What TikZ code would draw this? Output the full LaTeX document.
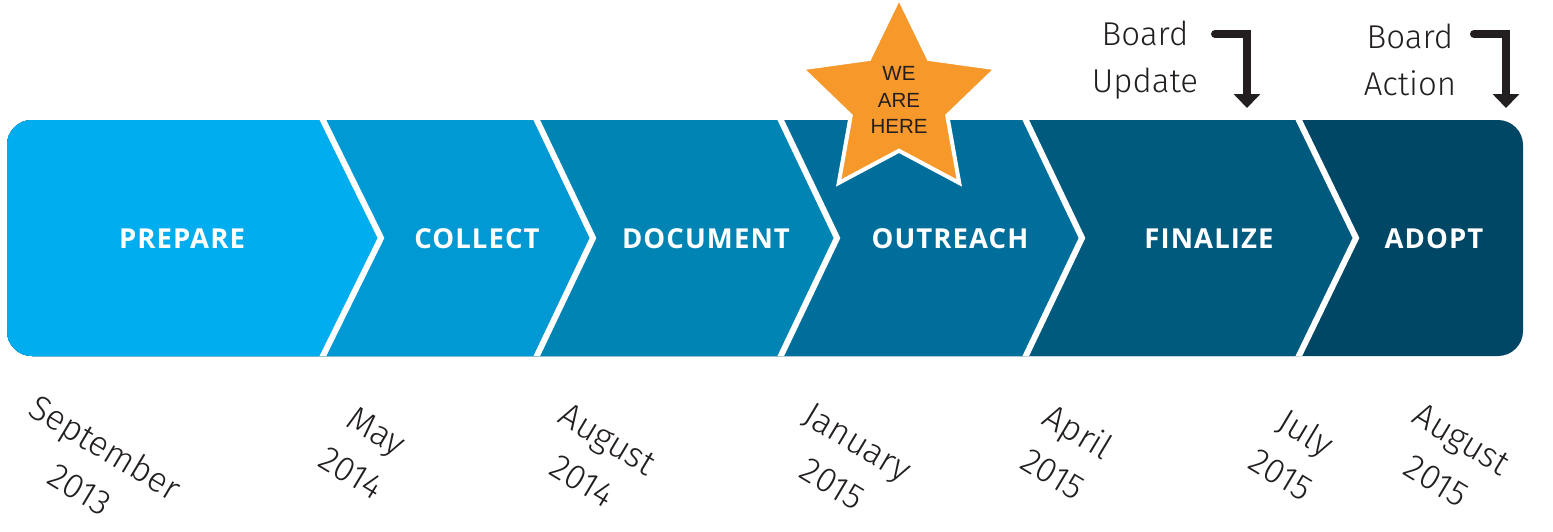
\documentclass[tikz,border=0pt]{standalone}
\usepackage{fontspec}
\setmainfont{Liberation Sans}
\newfontfamily\stagefont{Open Sans}[LetterSpace=4]
\newfontfamily\thinfont{Fira Sans Light}
\usetikzlibrary{shapes.geometric}
\usetikzlibrary{arrows.meta}

\definecolor{prepcol}{HTML}{00AEEF}
\definecolor{collcol}{HTML}{0099D3}
\definecolor{doccol}{HTML}{0084B4}
\definecolor{outrcol}{HTML}{006E9B}
\definecolor{fincol}{HTML}{005A7E}
\definecolor{adoptcol}{HTML}{004665}
\definecolor{starcol}{HTML}{F7982A}
\definecolor{inkcol}{HTML}{231F20}

\tikzset{
  stagelabel/.style={text=white, font=\stagefont\bfseries\fontsize{27.5}{32}\selectfont},
  datelabel/.style={rotate=-31, align=center, text=inkcol,
    font=\thinfont\fontsize{35}{49}\selectfont},
  boardlabel/.style={align=center, text=inkcol,
    font=\thinfont\fontsize{33}{47}\selectfont},
  divider/.style={draw=white, line width=6pt},
  pointer/.style={draw=inkcol, line width=8pt, line cap=round,
    -{Triangle[width=26pt,length=14pt]}},
}

\begin{document}
\begin{tikzpicture}[x=1pt,y=-1pt]
  \useasboundingbox (0,0) rectangle (1553,531);

  % the bar of chevrons
  \begin{scope}
    \clip[rounded corners=25pt] (7,120) rectangle (1523,356);
    \fill[adoptcol] (0,110) rectangle (1540,370);
    \fill[fincol]  (0,110) -- (1294,110) -- (1356,238) -- (1294,366) -- (0,366) -- cycle;
    \fill[outrcol] (0,110) -- (1021,110) -- (1082,238) -- (1021,366) -- (0,366) -- cycle;
    \fill[doccol]  (0,110) -- (776,110) -- (837,238) -- (776,366) -- (0,366) -- cycle;
    \fill[collcol] (0,110) -- (532,110) -- (593,238) -- (532,366) -- (0,366) -- cycle;
    \fill[prepcol] (0,110) -- (318,110) -- (381,238) -- (318,366) -- (0,366) -- cycle;
    \draw[divider] (318,110) -- (381,238) -- (318,366);
    \draw[divider] (532,110) -- (593,238) -- (532,366);
    \draw[divider] (776,110) -- (837,238) -- (776,366);
    \draw[divider] (1021,110) -- (1082,238) -- (1021,366);
    \draw[divider] (1294,110) -- (1356,238) -- (1294,366);
  \end{scope}

  \node[stagelabel] (prep)  at (182,239)  {PREPARE};
  \node[stagelabel] (coll)  at (477,239)  {COLLECT};
  \node[stagelabel] (doc)   at (706,239)  {DOCUMENT};
  \node[stagelabel] (outr)  at (950,239)  {OUTREACH};
  \node[stagelabel] (fin)   at (1209,239) {FINALIZE};
  \node[stagelabel] (adopt) at (1434,239) {ADOPT};

  % marker
  \node[star, star points=5, star point ratio=2.02, minimum size=205pt,
        inner sep=0pt, fill=starcol, draw=white, line width=4pt,
        align=center, text=inkcol, font=\fontsize{20.5}{26.5}\selectfont]
        (here) at (899,100) {WE\\ARE\\HERE};

  % board meetings
  \node[boardlabel] (upd) at (1145,60) {Board\\Update};
  \node[boardlabel] (act) at (1410,60) {Board\\Action};
  \coordinate (updfrom) at (1215,34);
  \coordinate (updto)   at (1247,108);
  \coordinate (actfrom) at (1474,34);
  \coordinate (actto)   at (1506,108);
  \draw[pointer] (updfrom) -| (updto);
  \draw[pointer] (actfrom) -| (actto);

  % dates
  \node[datelabel] (d1) at (93,468)   {September\\2013};
  \node[datelabel] (d2) at (364,452)  {May\\2014};
  \node[datelabel] (d3) at (595,460)  {August\\2014};
  \node[datelabel] (d4) at (845,463)  {January\\2015};
  \node[datelabel] (d5) at (1066,452) {April\\2015};
  \node[datelabel] (d6) at (1294,453) {July\\2015};
  \node[datelabel] (d7) at (1449,460) {August\\2015};
\end{tikzpicture}
\end{document}
